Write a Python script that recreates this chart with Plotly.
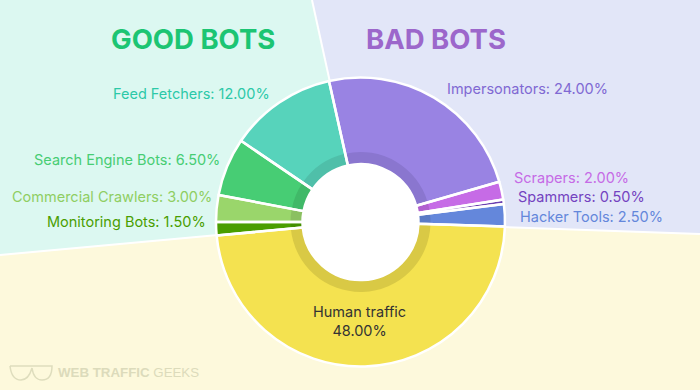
import plotly.graph_objects as go

labels = ["Impersonators", "Scrapers", "Spammers", "Hacker Tools", "Human traffic",
          "Monitoring Bots", "Commercial Crawlers", "Search Engine Bots", "Feed Fetchers"]
values = [24.0, 2.0, 0.5, 2.5, 48.0, 1.5, 3.0, 6.5, 12.0]
slice_colors = ["#9983e3", "#c66be6", "#6b3fb0", "#6487db", "#f4e250",
                "#4a9e00", "#9ad66b", "#47cd74", "#57d3bb"]
ring_colors = ["#8a76cf", "#b160cf", "#603a9e", "#5a7ac5", "#d9c945",
               "#438e00", "#8bc061", "#40b968", "#4fbfa9"]
text_colors = ["#8069d3", "#c66be6", "#7443c0", "#6487db", "#333333",
               "#4a9e00", "#8fce62", "#47cd74", "#2cc9a8"]
label_x = [445, 512, 516, 518, 359, 208, 214, 222, 272]
label_y = [89, 178, 196, 216, 321, 222, 196, 160, 93]
label_anchor = ["left", "left", "left", "left", "center", "right", "right", "right", "right"]

W, H = 700, 390
cx, cy, R, r_ring, r_hole = 360.5, 222, 144.5, 70, 58
FONT = "Inter"
ROT = -12.6

def px(x): return x / W
def py(y): return 1 - y / H

def dom(rad):
    return dict(x=[px(cx - rad), px(cx + rad)], y=[py(cy + rad), py(cy - rad)])

common = dict(labels=labels, values=values, sort=False, direction="clockwise", rotation=ROT,
              textinfo="none", showlegend=False)
fig = go.Figure()
fig.add_trace(go.Pie(hole=r_hole / R, hoverinfo="label+percent", domain=dom(R),
                     marker=dict(colors=slice_colors, line=dict(width=0)), **common))
fig.add_trace(go.Pie(hole=r_hole / r_ring, hoverinfo="skip", domain=dom(r_ring),
                     marker=dict(colors=ring_colors, line=dict(width=0)), **common))
fig.add_trace(go.Pie(hole=r_hole / R, hoverinfo="skip", domain=dom(R),
                     marker=dict(colors=["rgba(0,0,0,0)"] * len(values),
                                 line=dict(color="white", width=2.5)), **common))

def wedge(path, fill):
    return dict(type="path", xref="paper", yref="paper", layer="below",
                line=dict(width=0), fillcolor=fill, path=path)

def divider(x, y):
    return dict(type="path", xref="paper", yref="paper", layer="below",
                line=dict(color="white", width=2), path=f"M {px(x)} {py(y)} L {px(cx)} {py(cy)}")

shapes = [
    wedge(f"M 0 {py(255)} L 0 1 L {px(312)} 1 L {px(cx)} {py(cy)} Z", "#dcf8f1"),
    wedge(f"M {px(312)} 1 L 1 1 L 1 {py(234)} L {px(cx)} {py(cy)} Z", "#e2e6f8"),
    wedge(f"M 0 {py(255)} L {px(cx)} {py(cy)} L 1 {py(234)} L 1 0 L 0 0 Z", "#fdf9dc"),
    divider(312, 0), divider(0, 255), divider(700, 234),
    dict(type="circle", xref="paper", yref="paper", layer="below", line=dict(width=0), fillcolor="white",
         x0=px(cx - r_hole), x1=px(cx + r_hole), y0=py(cy + r_hole), y1=py(cy - r_hole)),
    dict(type="path", xref="paper", yref="paper", line=dict(color="#deddbd", width=1.5),
         path=(f"M {px(10)} {py(366)} L {px(52)} {py(366)} "
               f"C {px(52)} {py(376)}, {px(48)} {py(380)}, {px(42)} {py(380)} "
               f"C {px(36)} {py(380)}, {px(33)} {py(375)}, {px(32)} {py(368)} "
               f"C {px(30)} {py(375)}, {px(27)} {py(380)}, {px(21)} {py(380)} "
               f"C {px(15)} {py(380)}, {px(11)} {py(375)}, {px(10)} {py(366)}")),
]

annotations = []
for name, val, x, y, anchor, color in zip(labels, values, label_x, label_y, label_anchor, text_colors):
    text = f"{name}<br>{val:.2f}%" if anchor == "center" else f"{name}: {val:.2f}%"
    annotations.append(dict(text=text, x=px(x), y=py(y), xref="paper", yref="paper",
                            xanchor=anchor, yanchor="middle", showarrow=False,
                            font=dict(family=FONT, size=14.5, color=color)))
annotations.append(dict(text="<b>GOOD BOTS</b>", x=px(193), y=py(39), xref="paper", yref="paper",
                        xanchor="center", yanchor="middle", showarrow=False,
                        font=dict(family=FONT, size=27.5, color="#1cc573")))
annotations.append(dict(text="<b>BAD BOTS</b>", x=px(436), y=py(39), xref="paper", yref="paper",
                        xanchor="center", yanchor="middle", showarrow=False,
                        font=dict(family=FONT, size=27.5, color="#9c67cb")))
annotations.append(dict(text="<b>WEB TRAFFIC</b> GEEKS", x=px(56), y=py(372), xref="paper", yref="paper",
                        xanchor="left", yanchor="middle", showarrow=False,
                        font=dict(family="Liberation Sans", size=13.3, color="#dcdbbb")))

fig.update_layout(width=W, height=H, margin=dict(l=0, r=0, t=0, b=0), autosize=False,
                  paper_bgcolor="#fdf9dc", shapes=shapes, annotations=annotations, showlegend=False)
fig.write_html("out.html", config={"displayModeBar": False},
               post_script="document.body.style.margin='0';document.documentElement.style.overflow='hidden';")
